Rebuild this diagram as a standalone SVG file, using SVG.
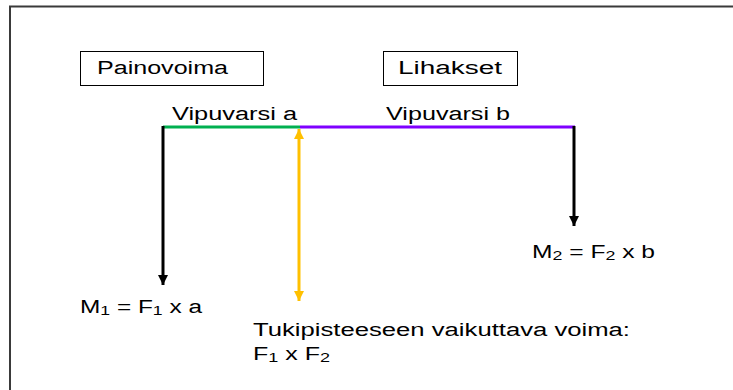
<svg xmlns="http://www.w3.org/2000/svg" width="733" height="390" viewBox="0 0 733 390">
<style>
  text { font-family: "Liberation Sans", Arial, sans-serif; font-size: 18px; fill: #000; }
  .sub { font-size: 13px; }
  .box { fill: #fff; stroke: #000; stroke-width: 1; }
</style>
<defs>
  <marker id="ahBlack" viewBox="0 0 10 10" refX="10" refY="5" markerWidth="10" markerHeight="10" markerUnits="userSpaceOnUse" orient="auto">
    <path d="M0,0 L10,5 L0,10 z" fill="#000"/>
  </marker>
  <marker id="ahYellow" viewBox="0 0 10 10" refX="10" refY="5" markerWidth="10" markerHeight="10" markerUnits="userSpaceOnUse" orient="auto-start-reverse">
    <path d="M0,0 L10,5 L0,10 z" fill="#FFC000"/>
  </marker>
</defs>
<rect width="733" height="390" fill="#fff"/>
<path d="M10,390 L10,6.5 L733,6.5" fill="none" stroke="#3a3a3a" stroke-width="2"/>

<g id="painovoima">
  <rect class="box" x="80.5" y="51.5" width="183" height="34"/>
  <text x="97" y="74" textLength="131" lengthAdjust="spacingAndGlyphs">Painovoima</text>
</g>
<g id="lihakset">
  <rect class="box" x="383.5" y="51.5" width="134" height="34"/>
  <text x="398" y="74" textLength="104" lengthAdjust="spacingAndGlyphs">Lihakset</text>
</g>

<g id="vipuvarsi-a">
  <line x1="163" y1="127" x2="300" y2="127" stroke="#00B050" stroke-width="3"/>
  <text x="172" y="120" textLength="125" lengthAdjust="spacingAndGlyphs">Vipuvarsi a</text>
</g>
<g id="vipuvarsi-b">
  <line x1="300" y1="127" x2="575" y2="127" stroke="#7F00FF" stroke-width="3"/>
  <text x="386" y="120" textLength="124" lengthAdjust="spacingAndGlyphs">Vipuvarsi b</text>
</g>

<g id="connectors">
  <line x1="163" y1="126" x2="163" y2="285" stroke="#000" stroke-width="3" marker-end="url(#ahBlack)"/>
  <line x1="574" y1="126" x2="574" y2="226" stroke="#000" stroke-width="3" marker-end="url(#ahBlack)"/>
  <line x1="299" y1="129" x2="299" y2="301" stroke="#FFC000" stroke-width="3" marker-start="url(#ahYellow)" marker-end="url(#ahYellow)"/>
</g>

<g id="m1">
  <text x="80" y="313" textLength="122" lengthAdjust="spacingAndGlyphs">M<tspan class="sub" dy="2">1</tspan><tspan dy="-2"> = F</tspan><tspan class="sub" dy="2">1</tspan><tspan dy="-2"> x a</tspan></text>
</g>
<g id="m2">
  <text x="532" y="258" textLength="123" lengthAdjust="spacingAndGlyphs">M<tspan class="sub" dy="2">2</tspan><tspan dy="-2"> = F</tspan><tspan class="sub" dy="2">2</tspan><tspan dy="-2"> x b</tspan></text>
</g>
<g id="tukipiste">
  <text x="253" y="336" textLength="377" lengthAdjust="spacingAndGlyphs">Tukipisteeseen vaikuttava voima:</text>
  <text x="253" y="360" textLength="77" lengthAdjust="spacingAndGlyphs">F<tspan class="sub" dy="2">1</tspan><tspan dy="-2"> x F</tspan><tspan class="sub" dy="2">2</tspan></text>
</g>
</svg>
